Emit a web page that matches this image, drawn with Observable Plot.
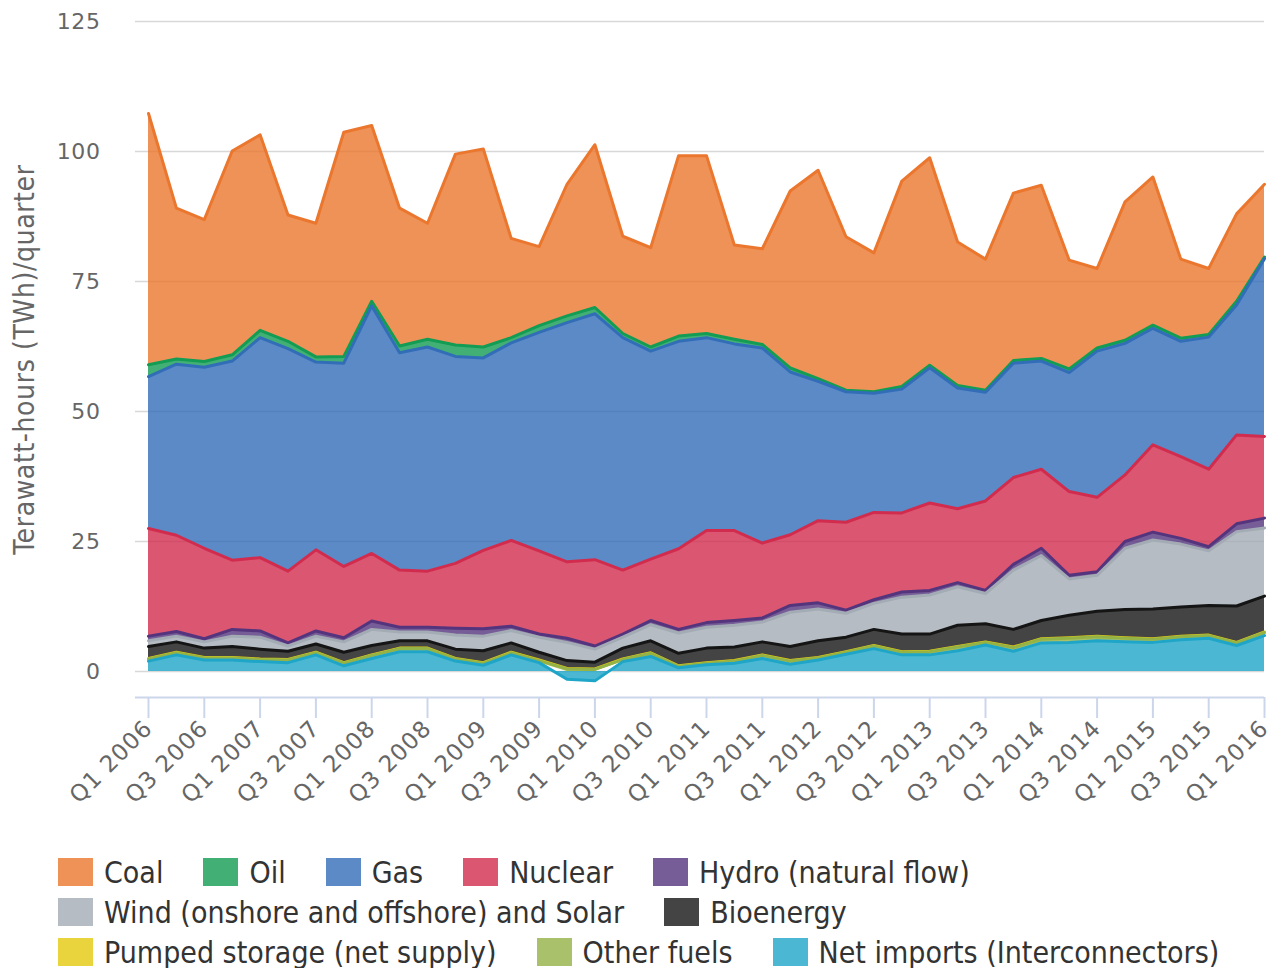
<!DOCTYPE html>
<html>
<head>
<meta charset="utf-8">
<script src="https://cdn.jsdelivr.net/npm/d3@7"></script>
<script src="https://cdn.jsdelivr.net/npm/@observablehq/plot@0.6"></script>
<style>
  html, body { margin: 0; padding: 0; background: #fff; }
  #chart { width: 1267px; }
  g[aria-label="y-axis tick label"] text { letter-spacing: 0.6px; }
  g[aria-label="x-axis tick label"] text { letter-spacing: 1px; }
  g[aria-label="text"] text { letter-spacing: 0.6px; }
  #legend { padding: 12px 0 0 58px; font-family: "DejaVu Sans Condensed", "DejaVu Sans", sans-serif; font-size: 30px; color: #333; }
  .row { display: flex; height: 40px; align-items: center; white-space: nowrap; }
  .item { display: flex; align-items: center; margin-right: 40px; }
  .sw { width: 35px; height: 28px; margin-right: 11px; }
</style>
</head>
<body>
<div id="chart"></div>
<div id="legend"></div>
<script>
const quarters = [
  "Q1 2006","Q2 2006","Q3 2006","Q4 2006","Q1 2007","Q2 2007","Q3 2007","Q4 2007",
  "Q1 2008","Q2 2008","Q3 2008","Q4 2008","Q1 2009","Q2 2009","Q3 2009","Q4 2009",
  "Q1 2010","Q2 2010","Q3 2010","Q4 2010","Q1 2011","Q2 2011","Q3 2011","Q4 2011",
  "Q1 2012","Q2 2012","Q3 2012","Q4 2012","Q1 2013","Q2 2013","Q3 2013","Q4 2013",
  "Q1 2014","Q2 2014","Q3 2014","Q4 2014","Q1 2015","Q2 2015","Q3 2015","Q4 2015",
  "Q1 2016"
];

// Series values, TWh per quarter (stack order bottom -> top)
const netImports = [2.0,3.2,2.2,2.2,1.9,1.7,3.2,1.1,2.5,3.8,3.8,2.0,1.2,3.2,1.7,-1.5,-1.8,1.9,2.9,0.7,1.3,1.6,2.5,1.4,2.2,3.3,4.4,3.2,3.2,4.0,5.1,3.9,5.5,5.6,5.9,5.7,5.6,6.1,6.4,5.0,6.9];
const otherFuels = [0.4,0.4,0.4,0.4,0.4,0.5,0.4,0.5,0.6,0.6,0.6,0.4,0.4,0.4,0.4,0.5,0.4,0.4,0.6,0.3,0.3,0.4,0.6,0.6,0.4,0.4,0.5,0.5,0.6,0.7,0.5,0.7,0.7,0.8,0.8,0.7,0.6,0.6,0.5,0.5,0.6];
const pumpedStorage = [0.1,0.1,0.1,0.1,0.1,0.1,0.1,0.1,0.1,0.1,0.1,0.1,0.1,0.1,0.1,0.1,0.1,0.1,0.1,0.1,0.1,0.1,0.1,0.1,0.1,0.1,0.1,0.1,0.1,0.1,0.1,0.1,0.1,0.1,0.1,0.1,0.1,0.1,0.1,0.1,0.1];
const bioenergy = [2.3,2.0,1.8,2.1,1.9,1.6,1.6,2.0,1.8,1.4,1.4,1.8,2.3,1.8,1.5,1.5,1.3,2.1,2.3,2.4,2.8,2.6,2.5,2.7,3.2,2.8,3.1,3.4,3.3,4.1,3.5,3.4,3.5,4.3,4.8,5.4,5.7,5.6,5.7,7.0,6.9];
const windSolar = [1.1,1.1,1.2,2.0,2.3,1.0,1.5,2.0,3.1,1.7,1.7,2.7,2.8,2.4,2.9,3.5,2.5,2.1,3.1,3.9,4.0,4.2,3.8,6.6,6.1,4.6,5.0,7.1,7.5,7.4,5.8,11.4,12.5,7.0,6.9,11.8,13.3,12.1,10.5,14.3,13.1];
const hydro = [0.9,0.9,0.6,1.3,1.2,0.6,1.0,0.8,1.6,0.9,0.9,1.3,1.4,0.8,0.6,0.8,0.6,0.6,0.8,0.7,0.9,0.9,0.8,1.3,1.2,0.6,0.7,1.0,0.9,0.8,0.6,1.1,1.4,0.7,0.7,1.3,1.5,1.1,0.8,1.5,1.9];
const nuclear = [20.7,18.5,17.4,13.3,14.1,13.8,15.6,13.7,13.0,11.0,10.8,12.5,15.1,16.5,16.0,14.7,16.6,12.3,11.8,15.5,17.7,17.3,14.4,13.6,15.8,16.9,16.8,15.2,16.8,14.2,17.2,16.7,15.2,16.1,14.3,12.8,16.8,15.7,14.9,17.1,15.7];
const gas = [29.2,32.9,34.8,38.3,42.3,42.8,36.1,39.1,47.6,41.8,43.1,39.8,37.0,38.0,42.0,46.0,47.3,44.7,40.0,39.9,37.1,35.9,37.5,31.3,26.8,25.1,22.9,23.8,26.0,23.2,20.9,22.0,20.8,22.9,28.1,25.3,22.4,22.2,25.4,25.0,34.2];
const oil = [2.3,1.0,1.1,1.2,1.4,1.4,1.0,1.3,0.9,1.3,1.5,2.2,2.1,1.0,1.3,1.3,1.2,0.8,0.8,1.0,0.8,0.9,0.7,0.8,0.5,0.3,0.3,0.5,0.5,0.5,0.4,0.5,0.5,0.7,0.6,0.6,0.6,0.6,0.5,0.7,0.3];
const coal = [48.3,29.0,27.3,39.2,37.6,24.3,25.7,43.1,33.8,26.5,22.3,36.7,38.1,19.1,15.2,25.3,31.3,18.7,19.1,34.7,34.2,18.1,18.4,34.0,40.1,29.5,26.7,39.5,39.9,27.6,25.2,32.2,33.3,20.9,15.3,26.6,28.5,15.2,12.7,16.8,14.0];

const seriesNames = ["Net imports (Interconnectors)","Other fuels","Pumped storage (net supply)","Bioenergy","Wind (onshore and offshore) and Solar","Hydro (natural flow)","Nuclear","Gas","Oil","Coal"];
const seriesValues = [netImports, otherFuels, pumpedStorage, bioenergy, windSolar, hydro, nuclear, gas, oil, coal];
const seriesColors = ["#1ea5c8","#94b245","#e3c90e","#151515","#a3abb4","#54347d","#d12c4e","#326db8","#139c53","#eb772e"];

const legendRows = [
  ["Coal","Oil","Gas","Nuclear","Hydro (natural flow)"],
  ["Wind (onshore and offshore) and Solar","Bioenergy"],
  ["Pumped storage (net supply)","Other fuels","Net imports (Interconnectors)"]
];
const yTicks = [0,25,50,75,100,125];
const yTitle = "Terawatt-hours (TWh)/quarter";

const rows = [];
seriesNames.forEach((s, k) => {
  seriesValues[k].forEach((v, i) => rows.push({series: s, i, value: v}));
});
// lines drawn top series first so lower series' lines sit on top (as in the original)
const rowsTopFirst = [];
seriesNames.slice().reverse().forEach(s => {
  const k = seriesNames.indexOf(s);
  seriesValues[k].forEach((v, i) => rowsTopFirst.push({series: s, i, value: v}));
});
const xTicks = quarters.map((q, i) => i).filter(i => i % 2 === 0);

const chart = Plot.plot({
  width: 1267,
  height: 840,
  marginTop: 21,
  marginBottom: 143,
  marginLeft: 135,
  marginRight: 3,
  style: {fontFamily: "DejaVu Sans", color: "#666", background: "#fff"},
  x: {domain: [-0.466, quarters.length - 1]},
  y: {domain: [-5, 125]},
  color: {domain: seriesNames, range: seriesColors},
  marks: [
    Plot.ruleY(yTicks, {stroke: "#d8d8d8", strokeWidth: 1.5}),
    Plot.areaY(rows, {x: "i", y: "value", z: "series", fill: "series", fillOpacity: 0.8}),
    Plot.lineY(rowsTopFirst, Plot.stackY2({x: "i", y: "value", z: "series", stroke: "series", strokeWidth: 3, order: seriesNames})),
    Plot.ruleY([-5], {stroke: "#ccd6eb", strokeWidth: 2}),
    Plot.axisY({ticks: yTicks, tickSize: 0, tickPadding: 35, label: null, fontSize: 22}),
    Plot.axisX({ticks: xTicks, tickFormat: i => quarters[i], tickRotate: -45, tickSize: 21, tickPadding: 6,
                stroke: "#ccd6eb", strokeWidth: 2, label: null, fontSize: 23}),
    Plot.text([yTitle], {frameAnchor: "left", textAnchor: "middle", dx: -110, rotate: -90, fontSize: 28, fill: "#666",
                         fontFamily: "DejaVu Sans Condensed"})
  ]
});
document.getElementById("chart").appendChild(chart);

const legend = document.getElementById("legend");
legendRows.forEach(r => {
  const row = document.createElement("div");
  row.className = "row";
  r.forEach(name => {
    const item = document.createElement("div");
    item.className = "item";
    const sw = document.createElement("div");
    sw.className = "sw";
    sw.style.background = seriesColors[seriesNames.indexOf(name)];
    sw.style.opacity = 0.8;
    const t = document.createElement("span");
    t.textContent = name;
    item.appendChild(sw);
    item.appendChild(t);
    row.appendChild(item);
  });
  legend.appendChild(row);
});
</script>
</body>
</html>
